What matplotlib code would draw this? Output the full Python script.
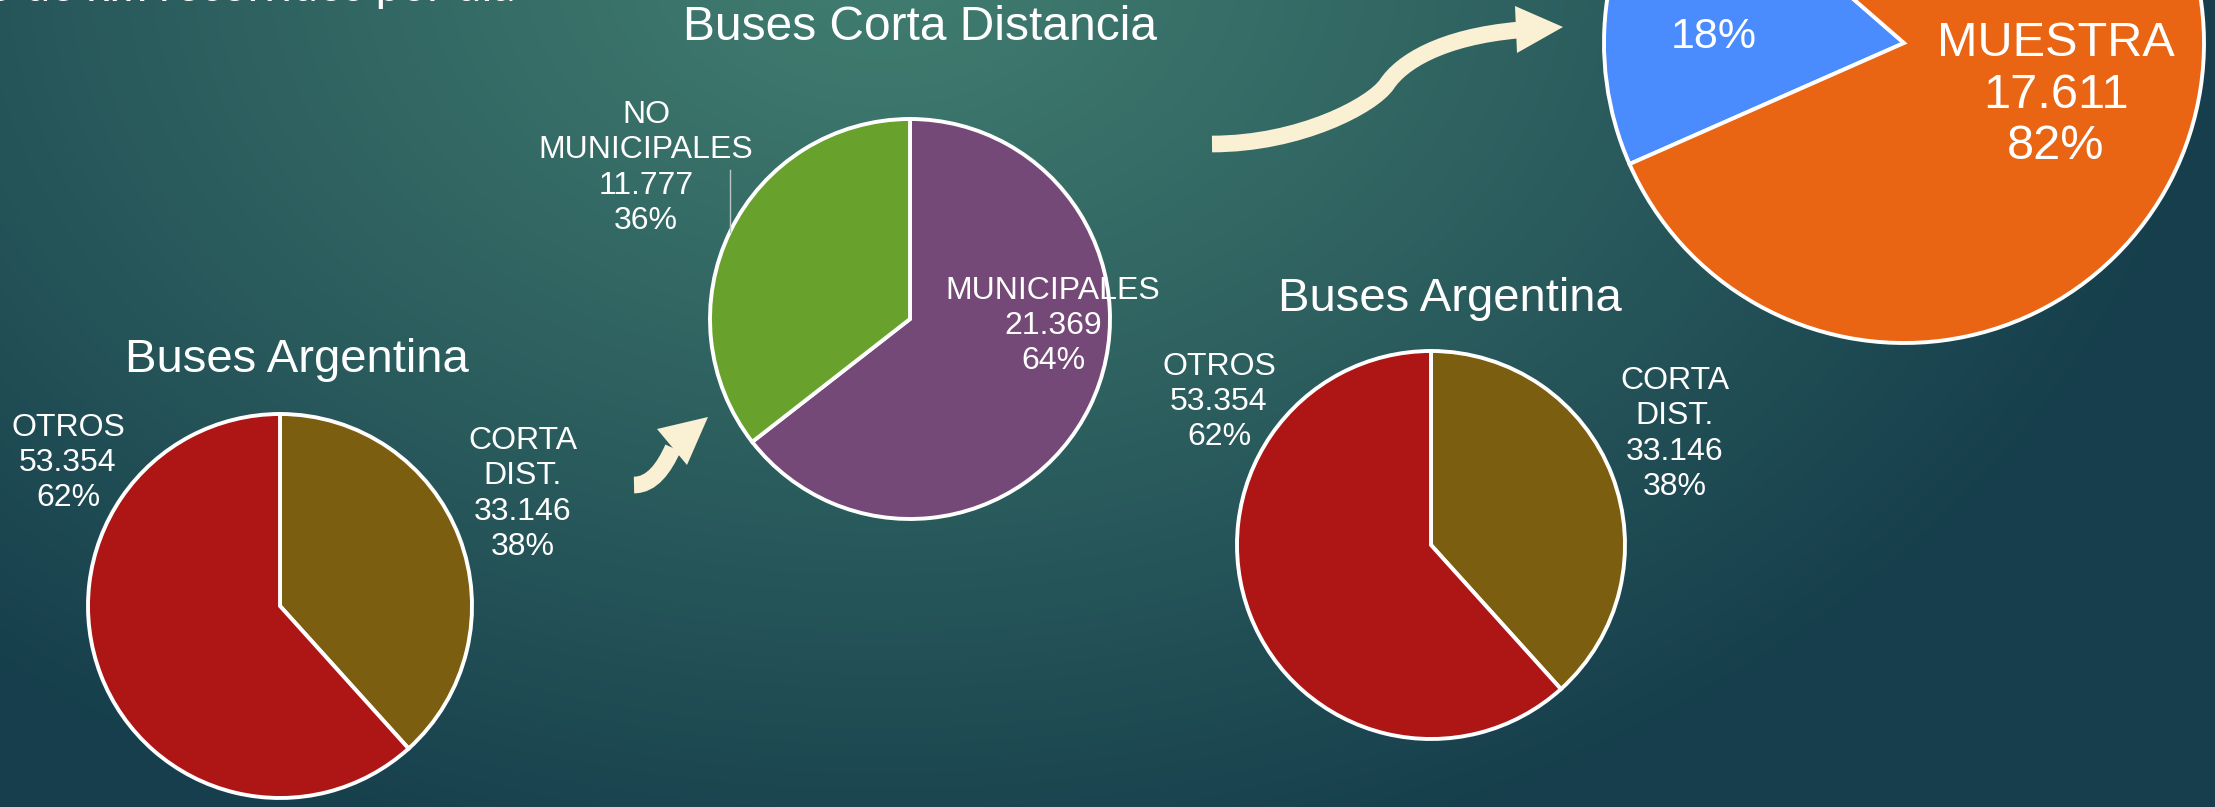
import numpy as np
import matplotlib
matplotlib.use("Agg")
import matplotlib.pyplot as plt
from matplotlib.path import Path
from matplotlib.patches import PathPatch, Polygon

W, H = 2215, 807

# data
arg_labels = ["CORTA\nDIST.", "OTROS"]
arg_values = [33146, 53354]
arg_colors = ["#7b5e0f", "#ae1515"]

corta_labels = ["MUNICIPALES", "NO\nMUNICIPALES"]
corta_values = [21369, 11777]
corta_colors = ["#754977", "#69a12d"]

muestra_labels = ["", "MUESTRA"]
muestra_values = [3866, 17611]
muestra_colors = ["#4a8cfd", "#e96413"]

plt.rcParams["font.family"] = ["Liberation Sans", "DejaVu Sans"]
WHITE = "white"
CREAM = "#faf0d3"


def fmt(v):
    return f"{v:,}".replace(",", ".")


def label_text(name, v, total):
    pct = f"{round(v / total * 100)}%"
    if name:
        return f"{name}\n{fmt(v)}\n{pct}"
    return pct


fig = plt.figure(figsize=(W / 100, H / 100), dpi=100)
ax = fig.add_axes([0, 0, 1, 1])

# background: teal slide with lighter spot near the top centre
yy, xx = np.mgrid[0:H, 0:W]
d = np.sqrt(((xx - 880) / 1350.0) ** 2 + ((yy + 40) / 950.0) ** 2)
t = np.clip(d, 0, 1) ** 1.1
light = np.array([65, 125, 112]) / 255
dark = np.array([22, 62, 76]) / 255
bg = light[None, None, :] * (1 - t[..., None]) + dark[None, None, :] * t[..., None]
ax.imshow(bg, extent=(0, W, 0, H), origin="upper", zorder=0)


def Y(y):
    return H - y


def draw_pie(values, colors, cx, cy, r, start=90, ccw=False):
    ax.pie(values, colors=colors, startangle=start, counterclock=ccw,
           center=(cx, Y(cy)), radius=r, frame=True,
           wedgeprops=dict(edgecolor="white", linewidth=2.8))


def put(x, y, s, size=23, ls=1.22, **kw):
    ax.text(x, Y(y), s, color=WHITE, fontsize=size, ha="center", va="center",
            linespacing=ls, zorder=5, **kw)


# left pie: Buses Argentina
arg_total = sum(arg_values)
draw_pie(arg_values, arg_colors, 280, 606, 192)
put(297, 360, "Buses Argentina", size=34)
put(523, 494, label_text(arg_labels[0], arg_values[0], arg_total))
put(68, 463, label_text(arg_labels[1], arg_values[1], arg_total))

# middle pie: Buses Corta Distancia
corta_total = sum(corta_values)
draw_pie(corta_values, corta_colors, 910, 319, 200)
put(920, 28, "Buses Corta Distancia", size=34.5)
put(1053, 326, label_text(corta_labels[0], corta_values[0], corta_total))
put(646, 168, label_text(corta_labels[1], corta_values[1], corta_total))
ax.plot([730, 730], [Y(170), Y(232)], color="#b9c6c2", lw=1.0, zorder=4)

# right pie: Buses Argentina (repeated)
draw_pie(arg_values, arg_colors, 1431, 545, 194)
put(1450, 299, "Buses Argentina", size=34)
put(1675, 434, label_text(arg_labels[0], arg_values[0], arg_total))
put(1219, 402, label_text(arg_labels[1], arg_values[1], arg_total))

# top right pie: muestra
m_total = sum(muestra_values)
draw_pie(muestra_values, muestra_colors, 1904, 43, 300, start=139, ccw=True)
put(2056, 95, label_text(muestra_labels[1], muestra_values[1], m_total), size=35, ls=1.18)
put(1714, 37, label_text(muestra_labels[0], muestra_values[0], m_total), size=31)

# cut-off heading at the top-left corner
ax.text(515, Y(1), "Promedio de km recorridos por día", color=WHITE, fontsize=33,
        ha="right", va="baseline", family=["Lato", "DejaVu Sans"], zorder=5)


def curved_arrow(points, head, lw):
    verts = [(x, Y(y)) for x, y in points]
    codes = [Path.MOVETO] + [Path.CURVE4] * (len(verts) - 1)
    ax.add_patch(PathPatch(Path(verts, codes), facecolor="none", edgecolor=CREAM,
                           lw=lw, capstyle="butt", zorder=6))
    ax.add_patch(Polygon([(x, Y(y)) for x, y in head], closed=True,
                         facecolor=CREAM, edgecolor="none", zorder=6))


# big S-shaped arrow towards the muestra pie
curved_arrow([(1212, 144), (1300, 144), (1373, 105), (1387, 84),
              (1401, 63), (1440, 37), (1519, 30)],
             [(1515, 6), (1517, 53), (1563, 27)], lw=12)

# small arrow towards the middle pie
curved_arrow([(634, 485), (652, 485), (664, 468), (673, 448)],
             [(657, 429), (687, 465), (708, 417)], lw=12)

ax.set_xlim(0, W)
ax.set_ylim(0, H)
ax.set_aspect("equal")
ax.axis("off")

fig.savefig("out.png", dpi=100)
